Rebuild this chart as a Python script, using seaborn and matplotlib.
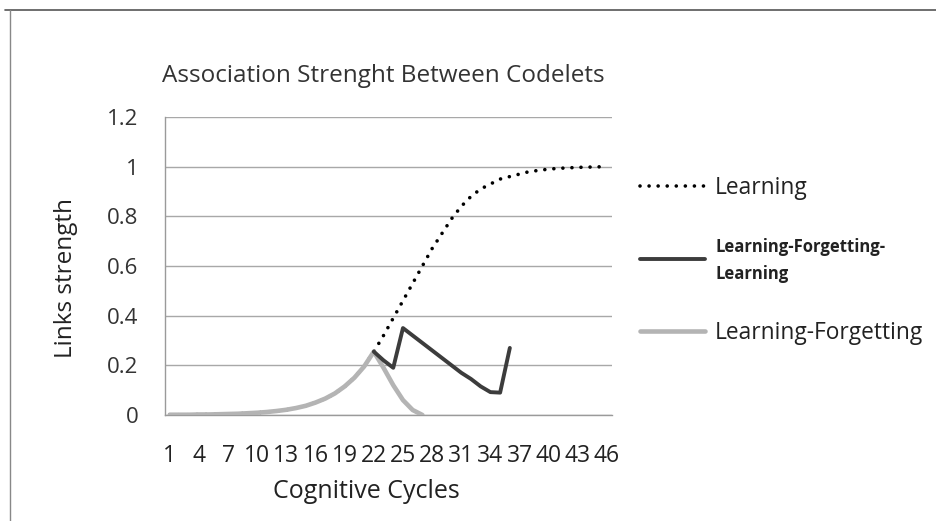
import numpy as np
import pandas as pd
import matplotlib
matplotlib.use("Agg")
import matplotlib.pyplot as plt
from matplotlib.lines import Line2D
import seaborn as sns

# data
cycles = list(range(1, 47))
learning = [0.001, 0.001, 0.001, 0.002, 0.002, 0.003, 0.004, 0.005, 0.007, 0.009,
            0.012, 0.016, 0.021, 0.028, 0.037, 0.050, 0.066, 0.087, 0.115, 0.150,
            0.195, 0.255, 0.32, 0.39, 0.46, 0.53, 0.60, 0.67, 0.73, 0.79,
            0.84, 0.88, 0.91, 0.93, 0.95, 0.96, 0.97, 0.98, 0.985, 0.99,
            0.993, 0.995, 0.997, 0.998, 0.999, 1.0]
forget_cycles = list(range(1, 28))
learn_forget = [0.001, 0.001, 0.001, 0.002, 0.002, 0.003, 0.004, 0.005, 0.007, 0.009,
                0.012, 0.016, 0.021, 0.028, 0.037, 0.050, 0.066, 0.087, 0.115, 0.150,
                0.195, 0.255, 0.19, 0.12, 0.06, 0.02, 0.0]
relearn_cycles = list(range(22, 37))
learn_forget_learn = [0.255, 0.22, 0.19, 0.35, 0.32, 0.29, 0.26, 0.23, 0.20, 0.17,
                      0.145, 0.115, 0.092, 0.09, 0.27]

df_l = pd.DataFrame({"cycle": cycles, "strength": learning})
df_lf = pd.DataFrame({"cycle": forget_cycles, "strength": learn_forget})
df_lfl = pd.DataFrame({"cycle": relearn_cycles, "strength": learn_forget_learn})

sns.set_style("white")
plt.rcParams["font.family"] = ["Open Sans", "DejaVu Sans"]

fig = plt.figure(figsize=(9.37, 5.21), dpi=100)
ax = fig.add_axes([0.176, 0.2035, 0.477, 0.572])

sns.lineplot(data=df_l, x="cycle", y="strength", ax=ax, color="black",
             linewidth=2.6, linestyle=(0, (0.01, 2.5)), dash_capstyle="round",
             label="Learning", zorder=3)
sns.lineplot(data=df_lf, x="cycle", y="strength", ax=ax, color="#b4b4b4",
             linewidth=3.3, label="Learning-Forgetting", zorder=4)
sns.lineplot(data=df_lfl, x="cycle", y="strength", ax=ax, color="#3c3c3c",
             linewidth=2.8, label="Learning-Forgetting-\nLearning", zorder=5)

ax.set_xlim(0.5, 46.5)
ax.set_ylim(0, 1.2)
ax.set_yticks(np.arange(0, 1.21, 0.2))
ax.set_yticklabels(["0", "0.2", "0.4", "0.6", "0.8", "1", "1.2"])
ax.set_xticks(cycles[::3])
ax.set_xticks(np.arange(0.5, 47, 1), minor=True)
ax.tick_params(axis="x", which="major", length=0, labelsize=16.5, pad=21, colors="#222222")
ax.tick_params(axis="x", which="minor", length=6, width=0.8, color="#999999", direction="out")
ax.tick_params(axis="y", length=5, width=0.8, color="#999999", labelsize=16,
               pad=14, labelcolor="#333333")
ax.grid(axis="y", color="#a8a8a8", linewidth=1)
ax.grid(axis="x", visible=False)
for side in ["top", "right"]:
    ax.spines[side].set_visible(False)
for side in ["left", "bottom"]:
    ax.spines[side].set_color("#9a9a9a")
    ax.spines[side].set_linewidth(1)

ax.set_xlabel("Cognitive Cycles", fontsize=18, color="#222222")
ax.xaxis.set_label_coords(0.45, -0.215)
ax.set_ylabel("Links strength", fontsize=17.5, color="#222222")
ax.yaxis.set_label_coords(-0.194, 0.46)
fig.text(0.409, 0.854, "Association Strenght Between Codelets", fontsize=17.5,
         ha="center", va="center", color="#333333")

handles, labels = ax.get_legend_handles_labels()
order = [0, 2, 1]
leg = ax.legend([handles[i] for i in order], [labels[i] for i in order],
                loc="upper left", bbox_to_anchor=(1.0626, 0.802), frameon=False,
                fontsize=16.4, handlelength=2.85, handletextpad=0.46, labelspacing=1.68,
                borderpad=0, borderaxespad=0)
texts = leg.get_texts()
texts[1].set_fontsize(12)
texts[1].set_fontweight("bold")
texts[1].set_linespacing(1.6)
for t in texts:
    t.set_color("#222222")

# scan frame edges
fig.add_artist(Line2D([0.005, 1.0], [0.981, 0.981], transform=fig.transFigure,
                      color="#555555", linewidth=1.2))
fig.add_artist(Line2D([0.011, 0.011], [0.0, 0.981], transform=fig.transFigure,
                      color="#888888", linewidth=1))

fig.savefig("out.png", dpi=100)
